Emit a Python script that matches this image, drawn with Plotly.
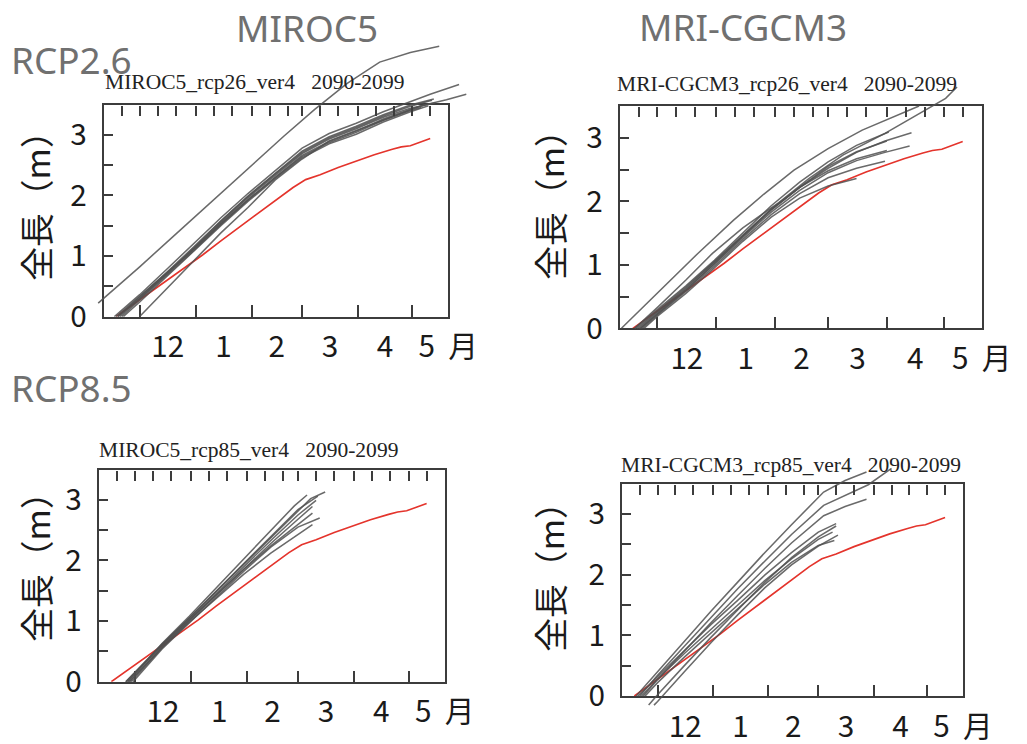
import plotly.graph_objects as go

# Geometry is designed on the 1027x744 reference; the figure is drawn at a
# slightly larger size with the same aspect and everything scaled by K.
REF_W, REF_H = 1027, 744
FIG_W, FIG_H = 1053, 763
K = FIG_W / REF_W

# ---------------- data (x: days from 1 December, y: total length in m) ----------------
RED_X = [-13, -5, 5, 15, 25, 35, 45, 55, 65, 75, 85, 92, 100, 110, 120, 130, 140, 145, 150, 155, 161]
RED_Y = [0, 0.17, 0.38, 0.59, 0.81, 1.02, 1.25, 1.47, 1.70, 1.92, 2.13, 2.26, 2.34, 2.46, 2.57, 2.67, 2.76, 2.80, 2.82, 2.87, 2.94]

MIROC5_RCP26 = [
    ([-23, 0, 20, 40, 60, 80, 97, 115, 133, 150, 166], [0.22, 0.82, 1.36, 1.90, 2.43, 2.98, 3.42, 3.85, 4.20, 4.36, 4.46]),
    ([0, 15, 30, 45, 60, 75, 90, 105, 120, 137, 156, 170, 181], [0, 0.46, 0.93, 1.38, 1.80, 2.25, 2.60, 2.90, 3.07, 3.26, 3.48, 3.58, 3.67]),
    ([-14, 0, 15, 30, 45, 60, 75, 90, 105, 120, 135, 150, 161, 177], [0, 0.36, 0.78, 1.20, 1.63, 2.03, 2.41, 2.78, 3.02, 3.19, 3.38, 3.55, 3.67, 3.83]),
    ([-12, 0, 15, 30, 45, 60, 75, 90, 105, 120, 135, 150, 163], [0, 0.32, 0.73, 1.15, 1.58, 1.99, 2.36, 2.73, 2.97, 3.14, 3.33, 3.49, 3.59]),
    ([-11, 0, 15, 30, 45, 60, 75, 90, 105, 120, 135, 150, 164], [0, 0.29, 0.70, 1.12, 1.55, 1.96, 2.33, 2.69, 2.93, 3.10, 3.29, 3.44, 3.53]),
    ([-13, 0, 15, 30, 45, 60, 75, 90, 105, 120, 135, 150, 159], [0, 0.33, 0.72, 1.11, 1.53, 1.93, 2.30, 2.66, 2.89, 3.06, 3.26, 3.42, 3.50]),
    ([-10, 0, 15, 30, 45, 60, 75, 90, 105, 120, 135, 150, 156], [0, 0.27, 0.68, 1.09, 1.52, 1.92, 2.29, 2.64, 2.87, 3.04, 3.24, 3.40, 3.45]),
    ([-12, 0, 15, 30, 45, 60, 75, 90, 105, 120, 135, 150, 162], [0, 0.30, 0.71, 1.13, 1.57, 1.98, 2.35, 2.71, 2.95, 3.12, 3.31, 3.47, 3.57]),
    ([-9, 0, 15, 30, 45, 60, 75, 90, 105, 120, 135, 150, 160], [0, 0.24, 0.66, 1.08, 1.50, 1.90, 2.27, 2.62, 2.85, 3.01, 3.21, 3.38, 3.48]),
]

MRI_RCP26 = [
    ([-19, 0, 21, 40, 56, 72, 90, 108, 125, 138], [0, 0.55, 1.17, 1.70, 2.11, 2.49, 2.83, 3.12, 3.33, 3.50]),
    ([-12, 0, 15, 29, 45, 64, 80, 98, 120, 135, 145, 152, 158], [0, 0.33, 0.76, 1.18, 1.58, 1.98, 2.36, 2.73, 3.07, 3.33, 3.50, 3.62, 3.80]),
    ([-12, 0, 15, 30, 45, 60, 75, 90, 105, 122], [0, 0.30, 0.67, 1.07, 1.50, 1.93, 2.30, 2.62, 2.88, 3.09]),
    ([-10, 0, 15, 30, 45, 60, 75, 90, 105, 120, 134], [0, 0.26, 0.63, 1.04, 1.46, 1.87, 2.22, 2.52, 2.77, 2.95, 3.08]),
    ([-9, 0, 15, 30, 45, 60, 75, 90, 105, 120, 133], [0, 0.24, 0.61, 1.01, 1.43, 1.83, 2.17, 2.45, 2.64, 2.77, 2.87]),
    ([-11, 0, 15, 30, 45, 60, 75, 90, 105, 121], [0, 0.28, 0.65, 1.05, 1.47, 1.88, 2.22, 2.48, 2.67, 2.80]),
    ([-8, 0, 15, 30, 45, 60, 75, 90, 105, 120], [0, 0.21, 0.58, 0.98, 1.40, 1.79, 2.12, 2.37, 2.52, 2.63]),
    ([-7, 0, 15, 30, 45, 60, 75, 90, 105], [0, 0.19, 0.55, 0.95, 1.37, 1.75, 2.05, 2.24, 2.36]),
    ([-9, 0, 15, 30, 45, 60, 75, 90, 105, 121], [0, 0.23, 0.60, 1.02, 1.45, 1.86, 2.22, 2.55, 2.78, 2.95]),
]

MIROC5_RCP85 = [
    ([-5, 15, 30, 45, 60, 75, 90, 97, 105], [0, 0.62, 1.05, 1.49, 1.93, 2.37, 2.80, 3.02, 3.13]),
    ([-4, 15, 30, 45, 60, 75, 90, 101], [0, 0.61, 1.05, 1.50, 1.95, 2.40, 2.84, 3.06]),
    ([-3, 15, 30, 45, 60, 75, 90, 100], [0, 0.58, 1.02, 1.46, 1.90, 2.33, 2.75, 2.99]),
    ([-2, 15, 30, 45, 60, 75, 90, 98], [0, 0.56, 1.00, 1.43, 1.86, 2.28, 2.68, 2.89]),
    ([-5, 15, 30, 45, 60, 75, 90, 98], [0, 0.60, 1.02, 1.44, 1.85, 2.24, 2.60, 2.78]),
    ([-3, 15, 30, 45, 60, 75, 90, 98], [0, 0.56, 0.98, 1.38, 1.77, 2.12, 2.43, 2.59]),
    ([-4, 15, 30, 45, 60, 75, 88, 95], [0, 0.63, 1.08, 1.55, 2.02, 2.48, 2.90, 3.08]),
    ([-1, 15, 30, 45, 60, 75, 90, 102], [0, 0.54, 0.97, 1.40, 1.82, 2.22, 2.55, 2.70]),
]

MRI_RCP85 = [
    ([-12, 0, 15, 30, 45, 60, 75, 93, 105, 117], [0, 0.40, 0.90, 1.40, 1.88, 2.36, 2.82, 3.36, 3.55, 3.69]),
    ([-10, 0, 15, 30, 45, 60, 75, 93, 105, 118, 131], [0, 0.34, 0.82, 1.30, 1.77, 2.22, 2.66, 3.14, 3.30, 3.48, 3.75]),
    ([-8, 0, 15, 30, 45, 60, 75, 93, 105, 117], [0, 0.27, 0.74, 1.21, 1.66, 2.10, 2.52, 2.97, 3.12, 3.24]),
    ([-11, 0, 15, 30, 45, 60, 75, 90, 100], [0, 0.32, 0.76, 1.18, 1.58, 1.99, 2.36, 2.70, 2.84]),
    ([-9, 0, 15, 30, 45, 60, 75, 90, 98], [0, 0.28, 0.70, 1.10, 1.50, 1.90, 2.26, 2.58, 2.70]),
    ([-7, 0, 15, 30, 45, 60, 75, 90, 99], [0, 0.22, 0.64, 1.04, 1.44, 1.84, 2.20, 2.48, 2.56]),
    ([-5, 0, 15, 30, 45, 60, 75, 90, 100], [-0.15, 0.02, 0.50, 0.97, 1.42, 1.87, 2.28, 2.62, 2.80]),
    ([-2, 0, 15, 30, 45, 60, 75, 90, 101], [-0.15, -0.09, 0.40, 0.88, 1.34, 1.78, 2.16, 2.47, 2.65]),
]

PANEL_TITLES = ["MIROC5_rcp26_ver4\u00a0\u00a0\u00a02090-2099", "MRI-CGCM3_rcp26_ver4\u00a0\u00a0\u00a02090-2099",
                "MIROC5_rcp85_ver4\u00a0\u00a0\u00a02090-2099", "MRI-CGCM3_rcp85_ver4\u00a0\u00a0\u00a02090-2099"]
MODEL_HEADINGS = ["MIROC5", "MRI-CGCM3"]
SCENARIO_HEADINGS = ["RCP2.6", "RCP8.5"]
Y_TITLE = "全長（m）"

X_RANGE = [-20, 171]          # 11 Nov .. 21 May
Y_RANGE = [0, 3.5]
MONTH_STARTS = [0, 31, 62, 90, 121, 151]
MONTH_LABEL_POS = [15.5, 46.5, 76, 105.5, 136, 171]
MONTH_LABELS = ["12", "1", "2", "3", "4", "5\u00a0\u00a0月"]
TEN_DAY_TICKS = [-10, 0, 10, 20, 31, 41, 51, 62, 72, 82, 90, 100, 110, 121, 131, 141, 151, 161]
Y_LABEL_VALS = [0, 1, 2, 3]
Y_MINOR_VALS = [0.5, 1.5, 2.5]

# ---------------- layout geometry (reference pixels) ----------------
FRAMES = [  # left, right, top, bottom of each plot frame
    (104, 450, 104.5, 316.5),
    (622, 985.5, 106, 328.3),
    (99, 446.5, 469.5, 681.7),
    (624.3, 966.7, 483.5, 696),
]
EXT = dict(l=30, r=30, t=85, b=25)   # room for curves drawn outside the frame
TITLE_POS = [(103, 82), (617, 84), (97, 450), (621, 465)]
YTITLE_POS = [(35, 197), (551, 196), (35, 558), (551, 568)]
PANELS = [MIROC5_RCP26, MRI_RCP26, MIROC5_RCP85, MRI_RCP85]

SANS = "Noto Sans CJK JP"
SERIF = "Liberation Serif"
AX_COL = "#3c3c3c"
GRAY = "rgba(80,80,80,0.85)"
RED = "#e4342c"

fig = go.Figure()
layout = dict(
    width=FIG_W, height=FIG_H, margin=dict(l=0, r=0, t=0, b=0),
    paper_bgcolor="white", plot_bgcolor="rgba(0,0,0,0)",
    showlegend=False, hovermode=False,
)
annotations = []


def px_x(v):
    return v / REF_W


def px_y(v):
    return 1 - v / REF_H


for i, (L, R, T, B) in enumerate(FRAMES):
    n = i + 1
    fx, fy = ("x" if n == 1 else f"x{n}"), ("y" if n == 1 else f"y{n}")
    dx, dy = f"x{n + 4}", f"y{n + 4}"
    sx = (R - L) / (X_RANGE[1] - X_RANGE[0])
    sy = (B - T) / (Y_RANGE[1] - Y_RANGE[0])

    tickfont = dict(family=SANS, size=29 * K, color="#1a1a1a")
    # frame axes
    layout["xaxis" if n == 1 else f"xaxis{n}"] = dict(
        domain=[px_x(L), px_x(R)], range=X_RANGE, anchor=fy,
        showline=True, linecolor=AX_COL, linewidth=1.6 * K, mirror=True,
        showgrid=False, zeroline=False,
        tickmode="array", tickvals=MONTH_LABEL_POS, ticktext=MONTH_LABELS,
        ticks="", tickfont=tickfont, ticklabelstandoff=3,
        minor=dict(tickmode="array", tickvals=MONTH_STARTS, ticks="inside",
                   ticklen=11 * K, tickwidth=1.6 * K, tickcolor=AX_COL, showgrid=False),
        fixedrange=True,
    )
    layout["yaxis" if n == 1 else f"yaxis{n}"] = dict(
        domain=[px_y(B), px_y(T)], range=Y_RANGE, anchor=fx,
        showline=True, linecolor=AX_COL, linewidth=1.6 * K, mirror=True,
        showgrid=False, zeroline=False,
        tickmode="array", tickvals=Y_LABEL_VALS, ticktext=[str(v) for v in Y_LABEL_VALS],
        ticks="inside", ticklen=9 * K, tickwidth=1.6 * K, tickcolor=AX_COL,
        tickfont=tickfont, ticklabelstandoff=round(9 * K),
        minor=dict(tickmode="array", tickvals=Y_MINOR_VALS, ticks="inside",
                   ticklen=9 * K, tickwidth=1.6 * K, tickcolor=AX_COL, showgrid=False),
        fixedrange=True,
    )
    # data axes: same scale, wider domain so curves can run outside the frame;
    # the x one also carries the ten-day ticks along the top of the frame
    layout[f"xaxis{n + 4}"] = dict(
        domain=[px_x(L - EXT["l"]), px_x(R + EXT["r"])],
        range=[X_RANGE[0] - EXT["l"] / sx, X_RANGE[1] + EXT["r"] / sx],
        anchor="free", position=px_y(T), side="top",
        showline=False, showgrid=False, zeroline=False, showticklabels=False,
        tickmode="array", tickvals=TEN_DAY_TICKS, ticks="inside", ticklen=10 * K,
        tickwidth=1.6 * K, tickcolor=AX_COL, fixedrange=True,
    )
    layout[f"yaxis{n + 4}"] = dict(
        domain=[px_y(B + EXT["b"]), px_y(T - EXT["t"])],
        range=[Y_RANGE[0] - EXT["b"] / sy, Y_RANGE[1] + EXT["t"] / sy],
        anchor=dx, visible=False, fixedrange=True,
    )

    for xs, ys in PANELS[i]:
        fig.add_trace(go.Scatter(x=xs, y=ys, mode="lines", xaxis=dx, yaxis=dy,
                                 line=dict(color=GRAY, width=1.5 * K)))
    fig.add_trace(go.Scatter(x=RED_X, y=RED_Y, mode="lines", xaxis=fx, yaxis=fy,
                             line=dict(color=RED, width=1.6 * K)))

    # panel title
    tx0, ty0 = TITLE_POS[i]
    annotations.append(dict(text=PANEL_TITLES[i], x=px_x(tx0), y=px_y(ty0), xref="paper", yref="paper",
                            xanchor="left", yanchor="middle", showarrow=False,
                            font=dict(family=SERIF, size=21 * K, color="#222")))
    # y-axis title
    yx0, yy0 = YTITLE_POS[i]
    annotations.append(dict(text=Y_TITLE, x=px_x(yx0), y=px_y(yy0), xref="paper", yref="paper",
                            xanchor="center", yanchor="middle", textangle=-90, showarrow=False,
                            font=dict(family=SANS, size=33 * K, color="#1a1a1a")))

HEAD_FONT = dict(family="Noto Sans", size=36 * K, color="#707070")
annotations.append(dict(text=MODEL_HEADINGS[0], x=px_x(308), y=px_y(28), xref="paper", yref="paper",
                        xanchor="center", yanchor="middle", showarrow=False, font=HEAD_FONT))
annotations.append(dict(text=MODEL_HEADINGS[1], x=px_x(746), y=px_y(27), xref="paper", yref="paper",
                        xanchor="center", yanchor="middle", showarrow=False, font=HEAD_FONT))
annotations.append(dict(text=SCENARIO_HEADINGS[0], x=px_x(9), y=px_y(60), xref="paper", yref="paper",
                        xanchor="left", yanchor="middle", showarrow=False, font=HEAD_FONT))
annotations.append(dict(text=SCENARIO_HEADINGS[1], x=px_x(9), y=px_y(388), xref="paper", yref="paper",
                        xanchor="left", yanchor="middle", showarrow=False, font=HEAD_FONT))

layout["annotations"] = annotations
fig.update_layout(**layout)
fig.write_html("out.html", config={"displayModeBar": False},
               post_script="document.body.style.margin='0';document.body.style.overflow='hidden';")
